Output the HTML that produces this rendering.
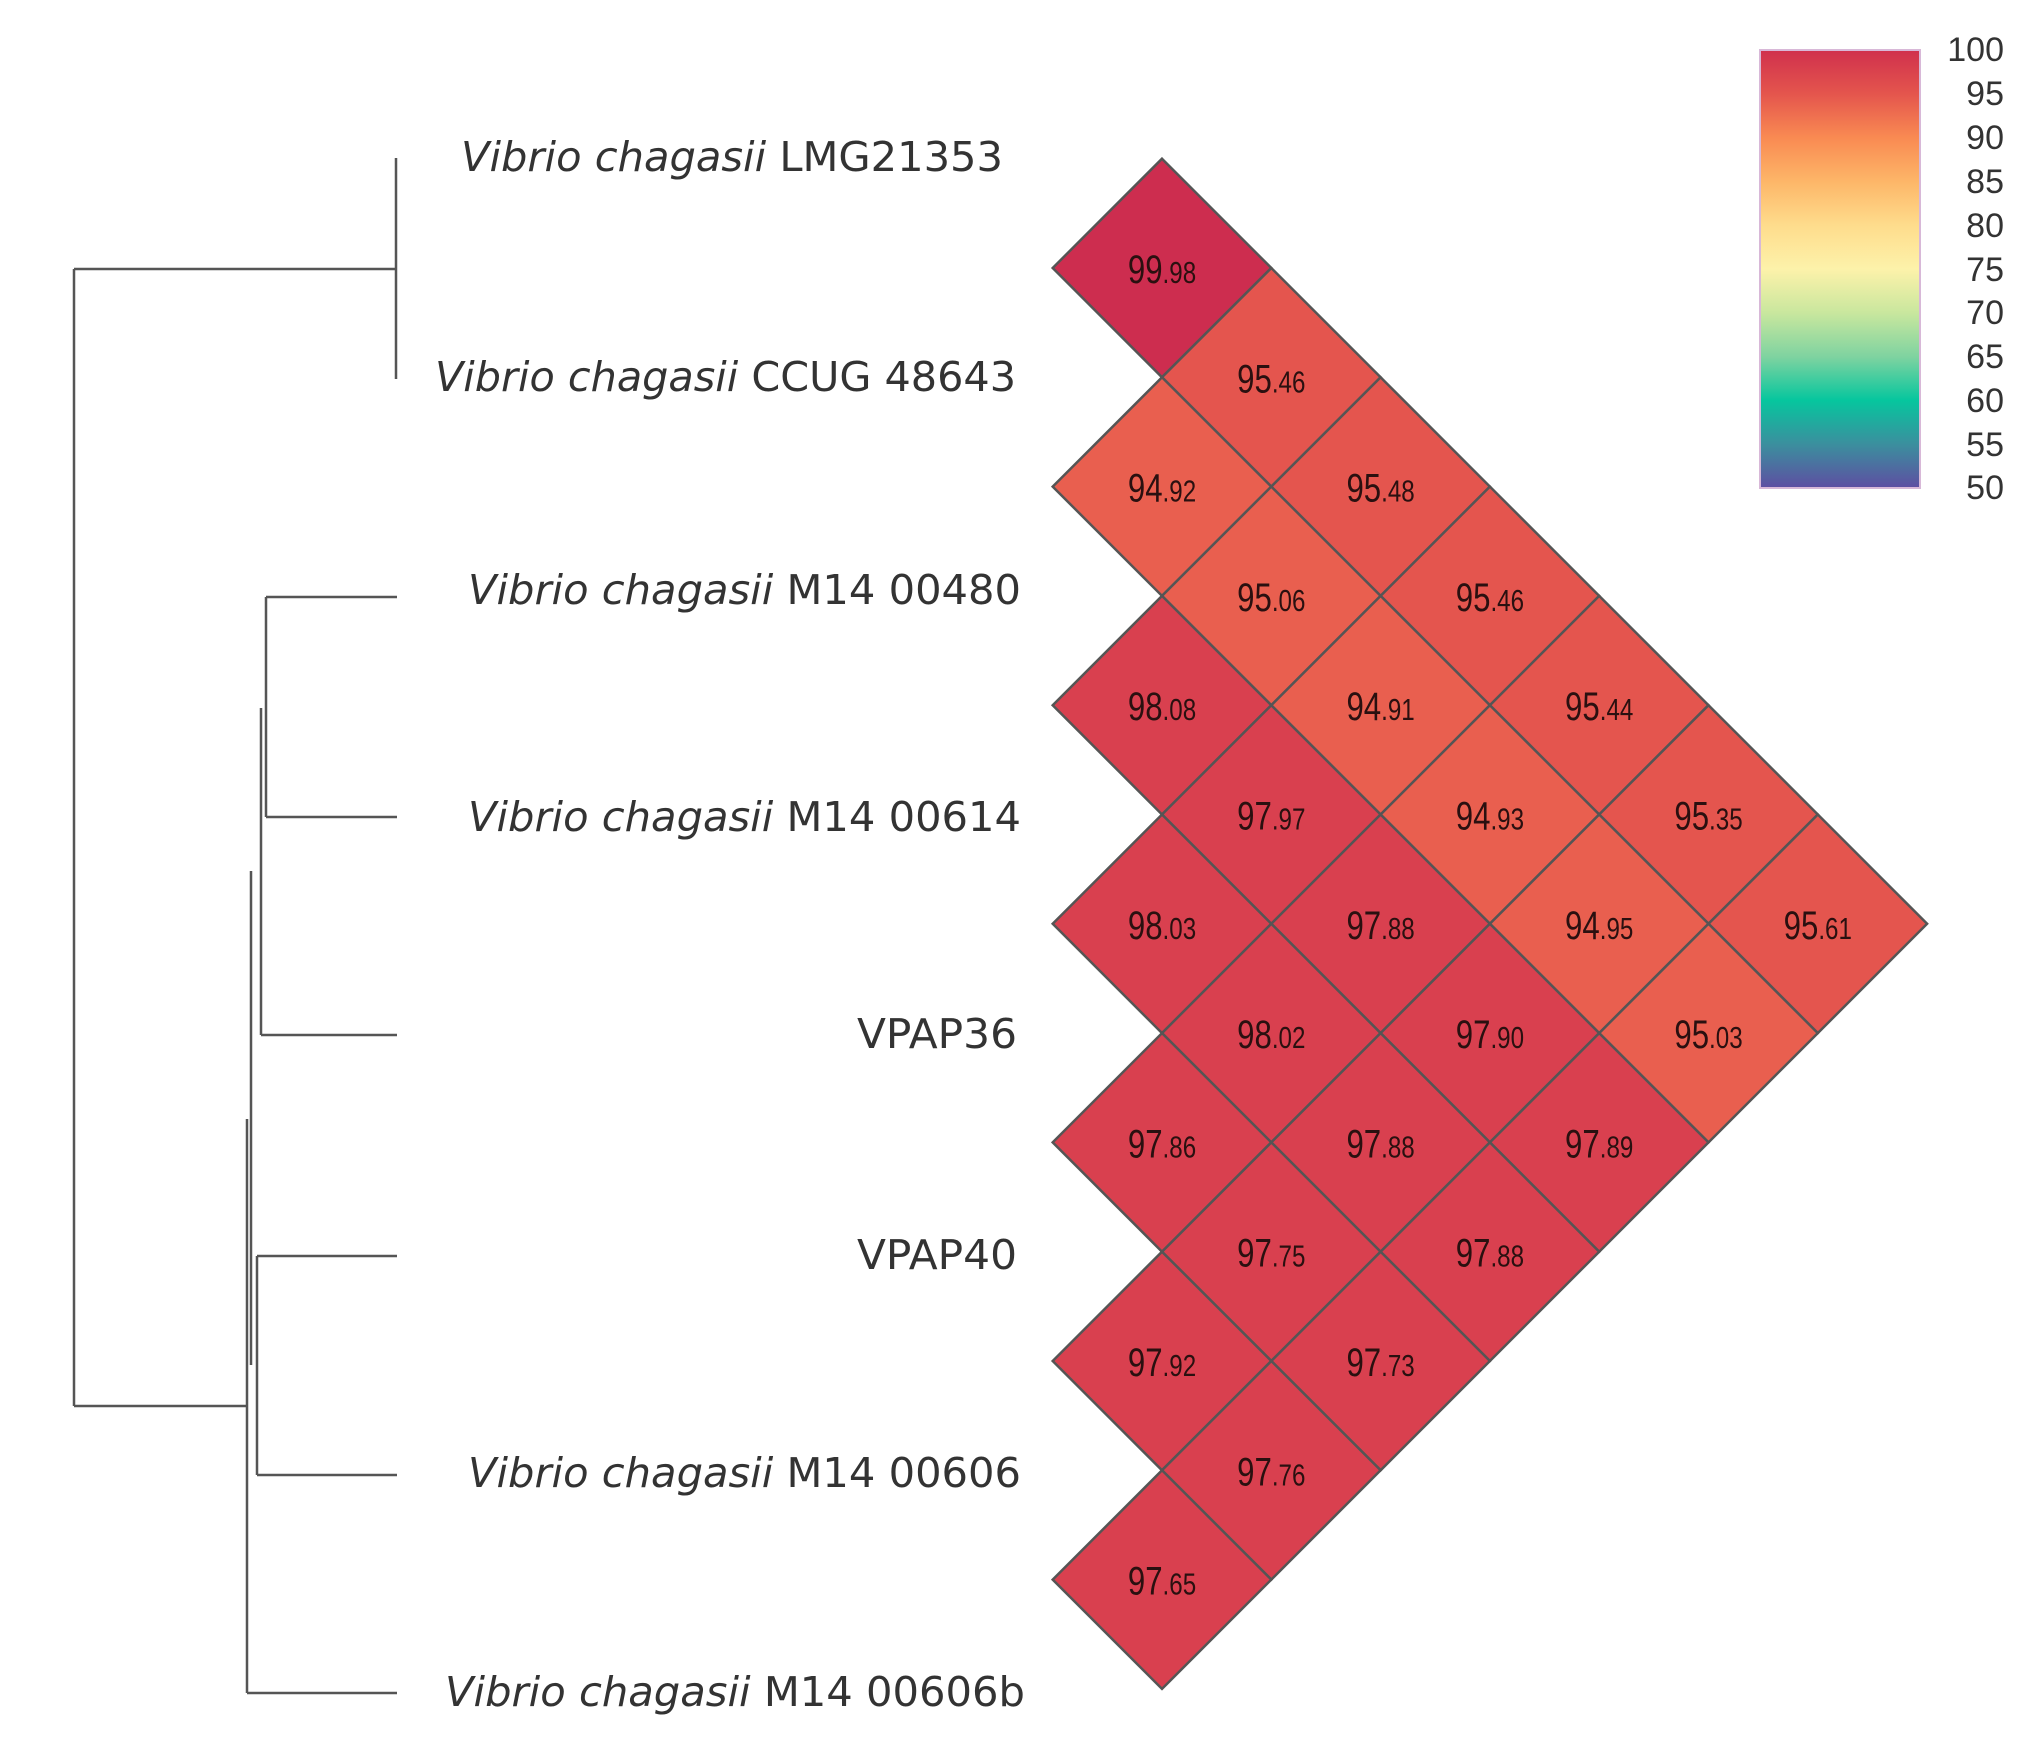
<!DOCTYPE html>
<html><head><meta charset="utf-8"><style>
html,body{margin:0;padding:0;background:#fff;}
svg{display:block;}
</style></head><body>
<svg width="2026" height="1746" viewBox="0 0 2026 1746" xmlns="http://www.w3.org/2000/svg">
<defs>
<linearGradient id="g" x1="0" y1="0" x2="0" y2="1">
<stop offset="0" stop-color="#d0304d"/>
<stop offset="0.1" stop-color="#e4554d"/>
<stop offset="0.2" stop-color="#f98a52"/>
<stop offset="0.3" stop-color="#fdb668"/>
<stop offset="0.4" stop-color="#fedc8c"/>
<stop offset="0.5" stop-color="#fdf2aa"/>
<stop offset="0.6" stop-color="#c9e79e"/>
<stop offset="0.7" stop-color="#7fd3a0"/>
<stop offset="0.8" stop-color="#06c69e"/>
<stop offset="0.9" stop-color="#3b8f9e"/>
<stop offset="1" stop-color="#5e4ea2"/>
</linearGradient>
</defs>
<g stroke="#555" stroke-width="2.5" fill="none">
<path d="M396 158 V379"/>
<path d="M74 269 H396"/>
<path d="M74 269 V1406"/>
<path d="M74 1406 H247"/>
<path d="M266 597 V817"/>
<path d="M266 597 H397"/>
<path d="M266 817 H397"/>
<path d="M261 708 V1035"/>
<path d="M261 1035 H397"/>
<path d="M257 1256 V1475"/>
<path d="M257 1256 H397"/>
<path d="M257 1475 H397"/>
<path d="M251 871 V1365"/>
<path d="M247 1119 V1693"/>
<path d="M247 1693 H397"/>
</g>
<g font-family="DejaVu Sans, sans-serif" font-size="41" fill="#333" lengthAdjust="spacingAndGlyphs">
<text x="461" y="171" textLength="542" lengthAdjust="spacingAndGlyphs"><tspan font-style="italic">Vibrio chagasii</tspan> LMG21353</text>
<text x="435" y="391" textLength="581" lengthAdjust="spacingAndGlyphs"><tspan font-style="italic">Vibrio chagasii</tspan> CCUG 48643</text>
<text x="468" y="604" textLength="553" lengthAdjust="spacingAndGlyphs"><tspan font-style="italic">Vibrio chagasii</tspan> M14 00480</text>
<text x="468" y="831" textLength="553" lengthAdjust="spacingAndGlyphs"><tspan font-style="italic">Vibrio chagasii</tspan> M14 00614</text>
<text x="857" y="1048" textLength="160" lengthAdjust="spacingAndGlyphs">VPAP36</text>
<text x="857" y="1269" textLength="160" lengthAdjust="spacingAndGlyphs">VPAP40</text>
<text x="468" y="1487" textLength="553" lengthAdjust="spacingAndGlyphs"><tspan font-style="italic">Vibrio chagasii</tspan> M14 00606</text>
<text x="445" y="1706" textLength="580" lengthAdjust="spacingAndGlyphs"><tspan font-style="italic">Vibrio chagasii</tspan> M14 00606b</text>
</g>
<g id="hm" stroke="#555" stroke-width="2.5" font-family="Liberation Sans, sans-serif"></g>
<rect x="1760" y="50" width="160" height="438" fill="url(#g)" stroke="#d8b8d8" stroke-width="2"/>
<g font-family="Liberation Sans, sans-serif" font-size="34" fill="#333" text-anchor="end">
<text x="2004" y="61">100</text>
<text x="2004" y="105">95</text>
<text x="2004" y="149">90</text>
<text x="2004" y="193">85</text>
<text x="2004" y="237">80</text>
<text x="2004" y="281">75</text>
<text x="2004" y="324">70</text>
<text x="2004" y="368">65</text>
<text x="2004" y="412">60</text>
<text x="2004" y="456">55</text>
<text x="2004" y="499">50</text>
</g>
</svg>
<script>
var cells=[[0,0,"99.98"],[1,1,"95.46"],[2,0,"94.92"],[2,2,"95.48"],[3,1,"95.06"],[3,3,"95.46"],
[4,0,"98.08"],[4,2,"94.91"],[4,4,"95.44"],[5,1,"97.97"],[5,3,"94.93"],[5,5,"95.35"],
[6,0,"98.03"],[6,2,"97.88"],[6,4,"94.95"],[6,6,"95.61"],[7,1,"98.02"],[7,3,"97.90"],[7,5,"95.03"],
[8,0,"97.86"],[8,2,"97.88"],[8,4,"97.89"],[9,1,"97.75"],[9,3,"97.88"],[10,0,"97.92"],[10,2,"97.73"],
[11,1,"97.76"],[12,0,"97.65"]];
function col(v){v=parseFloat(v);if(v>99)return"#cd2d4f";if(v>97)return"#d9404f";if(v>95.3)return"#e4554e";return"#e95f4f";}
var g=document.getElementById('hm'),s='',x0=1162,y0=268,st=109.3,h=109.3;
cells.forEach(function(c){var x=x0+c[1]*st,y=y0+c[0]*st;
s+='<path d="M'+x+' '+(y-h)+'L'+(x+h)+' '+y+'L'+x+' '+(y+h)+'L'+(x-h)+' '+y+'Z" fill="'+col(c[2])+'"/>';});
cells.forEach(function(c){var x=x0+c[1]*st,y=y0+c[0]*st,p=c[2].split('.');
s+='<text x="'+x+'" y="'+(y+15)+'" text-anchor="middle" stroke="none" fill="#2a1010" font-size="40" transform="translate('+x+' 0) scale(0.78 1) translate('+(-x)+' 0)">'+p[0]+'<tspan font-size="31">.'+p[1]+'</tspan></text>';});
g.innerHTML=s;
</script>
</body></html>
